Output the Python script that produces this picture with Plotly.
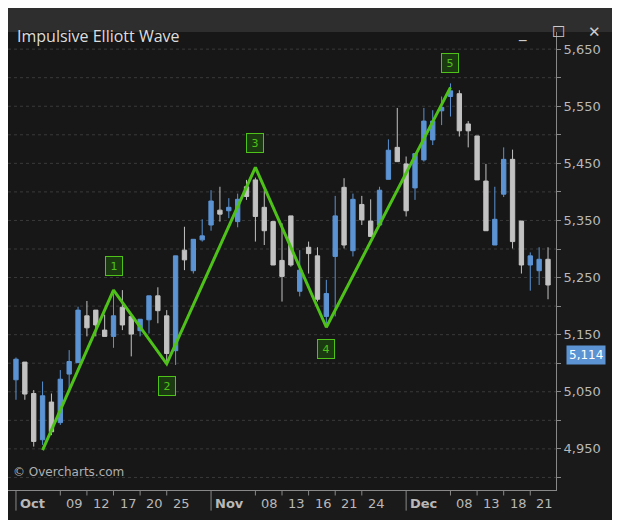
import plotly.graph_objects as go

# candle data (index order), blue = up, gray = down
body_top = [5107,5102,5047,5043,5032,5072,5103,5193,5183,5193,5158,5183,5198,5182,5177,5218,5218,5183,5288,5298,
            5317,5323,5384,5368,5373,5387,5409,5421,5373,5348,5280,5358,5263,5303,5288,5222,5358,5408,5387,5378,
            5349,5403,5473,5478,5449,5467,5524,5524,5548,5577,5572,5519,5498,5419,5352,5457,5457,5349,5288,5282,5282]
body_bot = [5071,5046,4963,4966,4980,4996,5081,5101,5162,5167,5147,5147,5167,5151,5157,5176,5192,5117,5122,5281,
            5262,5316,5342,5361,5367,5348,5392,5357,5332,5272,5252,5272,5226,5292,5212,5182,5287,5307,5297,5351,
            5322,5342,5422,5453,5367,5407,5456,5491,5542,5567,5507,5507,5421,5332,5307,5396,5313,5272,5272,5262,5237]
highs    = [5110,5102,5053,5068,5047,5088,5123,5199,5209,5193,5185,5222,5228,5187,5177,5218,5233,5193,5288,5339,
            5317,5352,5403,5409,5389,5397,5421,5425,5403,5348,5345,5358,5298,5313,5303,5246,5393,5424,5397,5393,
            5387,5409,5492,5547,5462,5467,5547,5543,5567,5590,5578,5524,5498,5449,5409,5478,5474,5349,5294,5303,5303]
lows     = [5036,5036,4954,4957,4974,4992,5056,5101,5147,5147,5147,5127,5158,5112,5147,5152,5170,5100,5097,5263,
            5257,5313,5332,5348,5354,5338,5386,5313,5307,5272,5208,5269,5217,5257,5208,5164,5182,5301,5287,5342,
            5322,5339,5422,5453,5357,5386,5453,5482,5517,5532,5497,5478,5421,5332,5307,5391,5301,5257,5227,5237,5212]
is_up    = [1,0,0,1,0,1,1,1,0,0,0,1,0,0,1,1,0,0,1,0,
            1,1,1,0,1,1,0,0,0,0,0,0,1,0,0,1,1,0,1,0,
            0,1,1,0,0,1,1,1,1,1,0,0,0,0,1,1,0,0,1,1,0]

wave_idx = [3, 11, 17, 27, 35, 49]
wave_val = [4948, 5228, 5099, 5443, 5163, 5583]
wave_lbl = ["", "1", "2", "3", "4", "5"]

tick_idx = [0, 5, 8, 11, 14, 17, 22, 27, 30, 33, 36, 39, 44, 49, 52, 55, 58]
tick_txt = ["Oct", "09", "12", "17", "20", "25", "Nov", "08", "13", "16", "21", "24", "Dec", "08", "13", "18", "21"]
y_labels = [4950, 5050, 5150, 5250, 5350, 5450, 5550, 5650]
last_price = 5114
title = "Impulsive Elliott Wave"

n = len(body_top)
x = list(range(n))
opens = [body_bot[i] if is_up[i] else body_top[i] for i in range(n)]
closes = [body_top[i] if is_up[i] else body_bot[i] for i in range(n)]

BLUE = "#5b93d3"
GRAY = "#c2c2c2"
GREEN = "#4fc21a"

fig = go.Figure()
fig.add_trace(go.Candlestick(
    x=x, open=opens, high=highs, low=lows, close=closes,
    increasing=dict(line=dict(color=BLUE, width=1), fillcolor=BLUE),
    decreasing=dict(line=dict(color=GRAY, width=1), fillcolor=GRAY),
    whiskerwidth=0, showlegend=False, hoverinfo="skip"))
fig.add_trace(go.Scatter(x=wave_idx, y=wave_val, mode="lines",
                         line=dict(color=GREEN, width=3), showlegend=False, hoverinfo="skip"))

for i, (xi, yi, t) in enumerate(zip(wave_idx, wave_val, wave_lbl)):
    if not t:
        continue
    peak = i % 2 == 1
    fig.add_annotation(x=xi, y=yi, text=t, showarrow=False,
                       yshift=24 if peak else -22,
                       font=dict(color=GREEN, size=11, family="DejaVu Sans"),
                       bgcolor="#1c3a12", bordercolor=GREEN, borderwidth=1,
                       width=14, height=16, borderpad=1)

grid = list(range(4900, 5700, 50))
for g in grid:
    fig.add_shape(type="line", xref="paper", x0=0, x1=1, y0=g, y1=g,
                  line=dict(color="#3a3a3a", width=1, dash="3px,3px"), layer="below")

for xi, t in zip(tick_idx, tick_txt):
    bold = t in ("Oct", "Nov", "Dec")
    fig.add_annotation(x=xi, y=0, yref="paper", text=("<b>%s</b>" % t) if bold else t,
                       showarrow=False, xanchor="left", yanchor="top", xshift=2 if bold else 4, yshift=-4,
                       font=dict(color="#b8b8b8", size=13, family="DejaVu Sans"))
    fig.add_shape(type="line", x0=xi, x1=xi, yref="paper", y0=0, y1=-0.045 if bold else -0.012,
                  line=dict(color="#888888", width=1))

fig.add_annotation(x=1, xref="paper", y=last_price, text=f"{last_price:,}", showarrow=False,
                   xanchor="left", xshift=10, font=dict(color="white", size=12, family="DejaVu Sans"),
                   bgcolor=BLUE, borderpad=2)
fig.add_annotation(x=0.005, xref="paper", y=0.02, yref="paper", text="© Overcharts.com", showarrow=False,
                   xanchor="left", yanchor="bottom", font=dict(color="#b0b0b0", size=12, family="DejaVu Sans"))

# title bar
fig.add_shape(type="rect", xref="paper", yref="paper", x0=-0.02, x1=1.14, y0=1.0, y1=1.06,
              fillcolor="#2e2e2e", line=dict(width=0), layer="below")
fig.add_annotation(xref="paper", yref="paper", x=0.012, y=1.02, text=title, showarrow=False,
                   xanchor="left", font=dict(color="#dddddd", size=16, family="Open Sans"))
for xp, s in [(0.95, "_"), (1.02, "☐"), (1.085, "✕")]:
    fig.add_annotation(xref="paper", yref="paper", x=xp, y=1.025, text=s, showarrow=False,
                       font=dict(color="#cccccc", size=15, family="DejaVu Sans"))

fig.update_layout(
    width=612, height=512, margin=dict(l=0, r=64, t=24, b=30),
    paper_bgcolor="#1a1a1a", plot_bgcolor="#171717",
    xaxis=dict(range=[-0.9, 60.9], showgrid=False, zeroline=False, showticklabels=False,
               rangeslider=dict(visible=False), showline=True, linecolor="#888888", fixedrange=True),
    yaxis=dict(range=[4878, 5680], side="right", tickvals=y_labels, ticktext=[f"{v:,}" for v in y_labels],
               showgrid=False, zeroline=False, showline=True, linecolor="#888888", mirror=False,
               ticks="outside", ticklen=4, tickcolor="#888888",
               tickfont=dict(color="#b8b8b8", size=13, family="DejaVu Sans"),
               minor=dict(tickvals=grid, ticks="outside", ticklen=4, tickcolor="#888888")),
)
fig.write_html("out.html")
